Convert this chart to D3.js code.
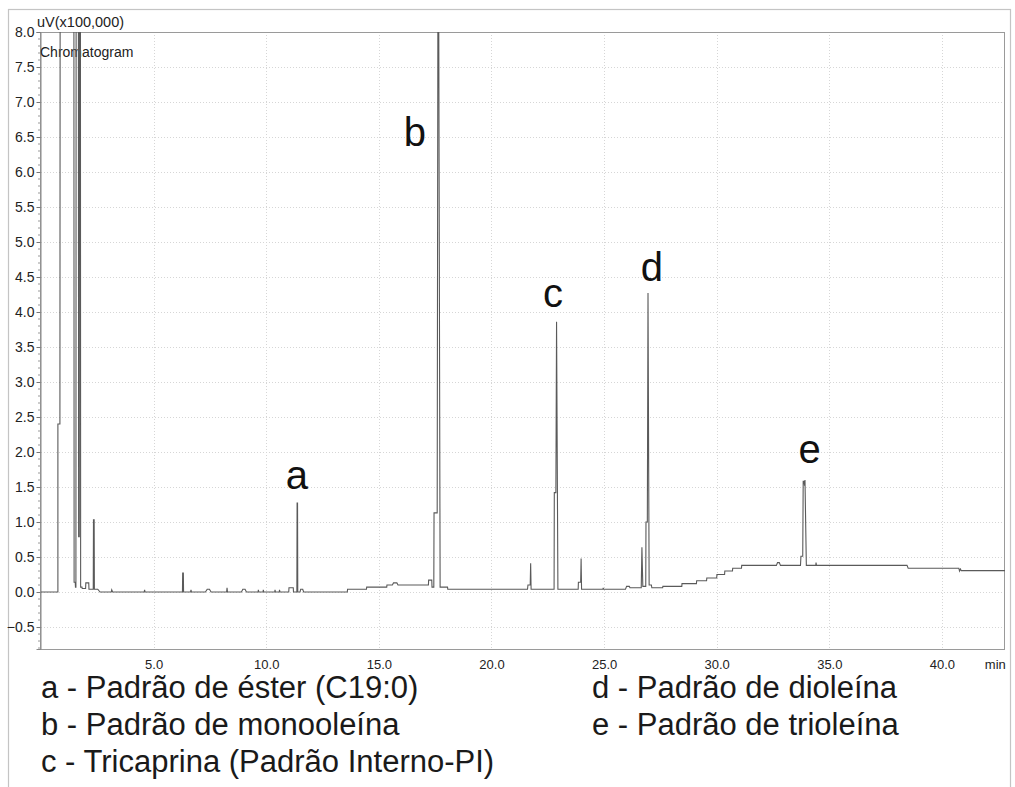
<!DOCTYPE html>
<html>
<head>
<meta charset="utf-8">
<script src="https://cdn.jsdelivr.net/npm/d3@7"></script>
<style>
  html, body { margin: 0; padding: 0; background: #fff; }
  svg { display: block; }
  text { font-family: "Liberation Sans", Arial, sans-serif; }
</style>
</head>
<body>
<svg id="chart" width="1015" height="787"></svg>
<script>
// ---- Data ----
// Retention time breakpoints (min) and detector signal (uV x100,000)
const times = [
  0.00, 0.75, 0.75, 0.84, 0.85, 1.46, 1.47, 1.52, 1.53, 1.55, 1.56, 1.66, 1.67, 1.70, 1.71, 1.75, 1.76, 1.82, 1.83, 1.98,
  1.99, 2.12, 2.13, 2.32, 2.33, 2.36, 2.37, 2.52, 2.62, 3.12, 3.14, 3.18, 4.58, 4.60, 4.62, 6.28, 6.29, 6.32, 6.33, 6.64,
  6.66, 6.68, 7.30, 7.38, 7.48, 7.55, 8.24, 8.26, 8.28, 8.90, 8.96, 9.06, 9.12, 9.64, 9.65, 9.67, 9.86, 9.87, 9.89, 10.38,
  10.39, 10.41, 10.58, 10.59, 10.61, 11.00, 11.01, 11.20, 11.21, 11.36, 11.37, 11.39, 11.40, 11.50, 11.53, 11.62, 11.66, 13.60, 13.61, 14.45,
  14.46, 15.35, 15.36, 15.60, 15.65, 15.80, 15.85, 17.20, 17.21, 17.35, 17.36, 17.44, 17.45, 17.59, 17.62, 17.66, 17.72, 18.05, 18.06, 21.60,
  21.62, 21.72, 21.74, 21.76, 22.78, 22.79, 22.86, 22.89, 22.95, 23.85, 23.86, 23.96, 23.98, 24.00, 24.95, 24.96, 24.98, 25.95, 26.00, 26.12,
  26.15, 26.65, 26.68, 26.72, 26.85, 26.86, 26.92, 26.95, 27.00, 27.10, 27.12, 27.60, 27.61, 28.45, 28.46, 29.10, 29.11, 29.55, 29.56, 30.00,
  30.01, 30.35, 30.36, 30.70, 30.71, 31.10, 31.11, 32.65, 32.70, 32.78, 32.83, 33.72, 33.74, 33.82, 33.84, 33.88, 33.90, 33.92, 33.98, 34.40,
  34.41, 34.43, 38.45, 38.50, 40.75, 40.78, 40.82, 40.86, 42.80
];
const signal = [
  0.00, 0.00, 2.40, 2.40, 8.80, 8.80, 0.14, 0.14, 0.07, 0.07, 8.80, 8.80, 0.79, 0.79, 8.80, 8.80, 0.07, 0.07, 0.05, 0.05,
  0.13, 0.13, 0.04, 0.04, 1.03, 1.03, 0.04, 0.04, 0.00, 0.00, 0.03, 0.00, 0.00, 0.03, 0.00, 0.00, 0.27, 0.27, 0.00, 0.00,
  0.03, 0.00, 0.00, 0.04, 0.04, 0.00, 0.00, 0.06, 0.00, 0.00, 0.04, 0.04, 0.00, 0.00, 0.03, 0.00, 0.00, 0.03, 0.00, 0.00,
  0.03, 0.00, 0.00, 0.03, 0.00, 0.00, 0.06, 0.06, 0.00, 0.00, 1.27, 1.27, 0.00, 0.00, 0.04, 0.04, 0.00, 0.00, 0.04, 0.04,
  0.07, 0.07, 0.10, 0.10, 0.13, 0.13, 0.10, 0.10, 0.17, 0.17, 0.07, 0.07, 1.13, 1.13, 8.05, 8.05, 0.07, 0.07, 0.04, 0.04,
  0.10, 0.10, 0.41, 0.04, 0.04, 1.42, 1.42, 3.86, 0.04, 0.04, 0.14, 0.14, 0.48, 0.04, 0.04, 0.06, 0.04, 0.04, 0.08, 0.08,
  0.06, 0.06, 0.64, 0.08, 0.08, 1.00, 1.00, 4.27, 0.10, 0.10, 0.06, 0.06, 0.08, 0.08, 0.12, 0.12, 0.16, 0.16, 0.20, 0.20,
  0.25, 0.25, 0.30, 0.30, 0.34, 0.34, 0.38, 0.38, 0.42, 0.42, 0.38, 0.38, 0.51, 0.51, 1.58, 1.58, 1.52, 1.60, 0.38, 0.38,
  0.42, 0.38, 0.38, 0.34, 0.34, 0.30, 0.33, 0.305, 0.305
];

// Peak letters and where they sit (time, signal at text baseline)
const peakLetters = ["a", "b", "c", "d", "e"];
const peakLetterTimes = [11.36, 16.6, 22.73, 27.12, 34.13];
const peakLetterValues = [1.47, 6.37, 4.07, 4.44, 1.84];

// Legend
const legendLeft = [
  "a - Padrão de éster (C19:0)",
  "b - Padrão de monooleína",
  "c - Tricaprina (Padrão Interno-PI)"
];
const legendRight = [
  "d - Padrão de dioleína",
  "e - Padrão de trioleína"
];

// Axis ticks
const yTicks = [-0.5, 0.0, 0.5, 1.0, 1.5, 2.0, 2.5, 3.0, 3.5, 4.0, 4.5, 5.0, 5.5, 6.0, 6.5, 7.0, 7.5, 8.0];
const xTicks = [5.0, 10.0, 15.0, 20.0, 25.0, 30.0, 35.0, 40.0];
const yTitle = "uV(x100,000)";
const chartTitle = "Chromatogram";
const xUnit = "min";

// ---- Layout ----
const svg = d3.select("#chart");
const plot = { left: 41, right: 1005, top: 32, bottom: 649 };

const x = d3.scaleLinear().domain([0, 42.8]).range([plot.left, plot.right]);
const y = d3.scaleLinear().domain([-0.814, 8.0]).range([plot.bottom, plot.top]);

// Outer frame
svg.append("rect")
  .attr("x", 8.5).attr("y", 9.5)
  .attr("width", 1002).attr("height", 800)
  .attr("fill", "none").attr("stroke", "#c4c4c4").attr("stroke-width", 1.2);

// Grid
const grid = svg.append("g").attr("stroke", "#d6d6d6").attr("stroke-width", 1).attr("stroke-dasharray", "1,2");
grid.selectAll("line.h").data(yTicks.filter(v => v < 8))
  .join("line")
  .attr("x1", plot.left).attr("x2", plot.right)
  .attr("y1", d => Math.round(y(d)) + 0.5).attr("y2", d => Math.round(y(d)) + 0.5);
grid.selectAll("line.v").data(xTicks)
  .join("line")
  .attr("y1", plot.top).attr("y2", plot.bottom)
  .attr("x1", d => Math.round(x(d)) + 0.5).attr("x2", d => Math.round(x(d)) + 0.5);

// Plot frame
svg.append("rect")
  .attr("x", plot.left - 0.5).attr("y", plot.top + 0.5)
  .attr("width", plot.right - plot.left).attr("height", plot.bottom - plot.top)
  .attr("fill", "none").attr("stroke", "#9a9a9a").attr("stroke-width", 1);

// Y axis
const yAxis = d3.axisLeft(y).tickValues(yTicks).tickFormat(d3.format(".1f")).tickSize(4).tickPadding(2);
const yG = svg.append("g").attr("transform", `translate(${plot.left - 0.5},0)`).call(yAxis);
yG.select(".domain").attr("stroke", "#888");
yG.selectAll(".tick line").attr("stroke", "#777");
yG.selectAll(".tick text").attr("fill", "#222").style("font-size", "14px").style("font-family", "'Liberation Sans', Arial, sans-serif");
// minor y ticks
const minorY = d3.range(-8, 81).map(i => i / 10).filter(v => Math.abs(v * 2 - Math.round(v * 2)) > 1e-6);
svg.append("g").selectAll("line").data(minorY).join("line")
  .attr("x1", plot.left - 3).attr("x2", plot.left - 0.5)
  .attr("y1", d => y(d)).attr("y2", d => y(d))
  .attr("stroke", "#999").attr("stroke-width", 1);

// X axis
const xAxis = d3.axisBottom(x).tickValues(xTicks).tickFormat(d3.format(".1f")).tickSize(0).tickPadding(10);
const xG = svg.append("g").attr("transform", `translate(0,${plot.bottom + 0.5})`).call(xAxis);
xG.select(".domain").remove();
xG.selectAll(".tick text").attr("fill", "#222").style("font-size", "13px").style("font-family", "'Liberation Sans', Arial, sans-serif");
svg.append("text").attr("x", x(42.37)).attr("y", plot.bottom + 20)
  .attr("text-anchor", "middle").attr("fill", "#222").style("font-size", "13px").text(xUnit);

// Titles
svg.append("text").attr("x", 37).attr("y", 27).attr("fill", "#222").style("font-size", "14.5px").text(yTitle);
svg.append("text").attr("x", 40).attr("y", 57).attr("fill", "#222").style("font-size", "14px").text(chartTitle);

// Trace
svg.append("clipPath").attr("id", "clip").append("rect")
  .attr("x", plot.left).attr("y", plot.top).attr("width", plot.right - plot.left).attr("height", plot.bottom - plot.top);
const pts = times.map((t, i) => [t, signal[i]]);
const line = d3.line().x(d => x(d[0])).y(d => y(d[1]));
svg.append("path").datum(pts)
  .attr("clip-path", "url(#clip)")
  .attr("d", line)
  .attr("fill", "none").attr("stroke", "#5a5a5a").attr("stroke-width", 1.1)
  .attr("stroke-linejoin", "miter");

// Peak letters
svg.append("g").selectAll("text").data(peakLetters).join("text")
  .attr("x", (d, i) => x(peakLetterTimes[i]))
  .attr("y", (d, i) => y(peakLetterValues[i]))
  .attr("text-anchor", "middle").attr("fill", "#111")
  .style("font-size", "40px").text(d => d);

// Legend
svg.append("g").selectAll("text").data(legendLeft).join("text")
  .attr("x", 41).attr("y", (d, i) => 698 + i * 37)
  .attr("fill", "#1a1a1a").style("font-size", "31px").text(d => d);
svg.append("g").selectAll("text").data(legendRight).join("text")
  .attr("x", 592).attr("y", (d, i) => 698 + i * 37)
  .attr("fill", "#1a1a1a").style("font-size", "31px").text(d => d);
</script>
</body>
</html>
